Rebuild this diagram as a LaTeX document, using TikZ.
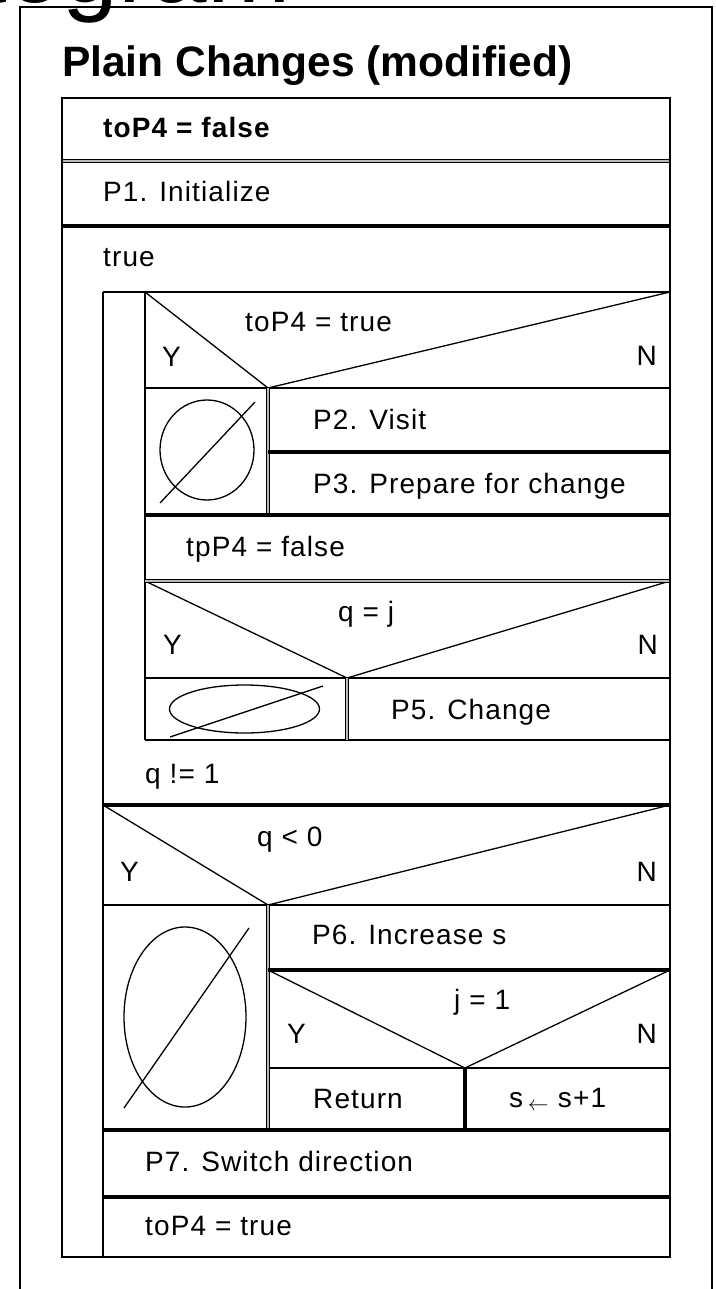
\documentclass[tikz,border=0pt]{standalone}
\usepackage{fontspec}
\setmainfont{Liberation Sans}[LetterSpace=4]
\newfontfamily\plainsans{Liberation Sans}
\tikzset{
  txt/.style={anchor=base west, inner sep=0pt, font=\fontsize{28}{32}\selectfont},
  txtr/.style={anchor=base east, inner sep=0pt, font=\fontsize{28}{32}\selectfont},
  frameline/.style={line width=2pt},
  boxline/.style={line width=2.6pt},
  rowline/.style={line width=2.2pt},
  diagline/.style={line width=1.3pt},
  sepline/.style={line width=4.5pt},
  dblline/.style={line width=1.7pt, double=gray!55, double distance=1.2pt},
}
\begin{document}
\begin{tikzpicture}[x=1pt, y=-1pt, line cap=butt, line join=miter]
\useasboundingbox (0,0) rectangle (715,1289);
\clip (0,0) rectangle (715,1289);
\fill[white] (0,0) rectangle (715,1289);

% cut-off heading at the top
\node[anchor=base west, inner sep=0pt, font=\plainsans\fontsize{100}{100}\selectfont] (heading) at (-254,3) {Structogram};

% outer frame
\draw[frameline] (20,1300) -- (20,7) -- (712,7) -- (712,1300);

% title
\node[anchor=base west, inner sep=0pt, font=\plainsans\bfseries\fontsize{42.5}{48}\selectfont] (title) at (62,77) {Plain Changes (modified)};

% ---------- thin structure lines ----------
\draw[rowline] (103,292) -- (670,292);
\draw[rowline] (103,292) -- (103,1257);
\draw[rowline] (145,292) -- (145,740);
% decision toP4 = true
\draw[diagline] (145,292) -- (268,388) -- (670,292);
\draw[rowline] (145,388) -- (670,388);
% decision q = j
\draw[diagline] (145,581) -- (347,678) -- (670,581);
\draw[rowline] (145,678) -- (670,678);
\draw[rowline] (145,740) -- (670,740);
% decision q < 0
\draw[diagline] (103,805) -- (268,905) -- (670,805);
\draw[rowline] (103,905) -- (670,905);
% decision j = 1
\draw[diagline] (268,970) -- (465,1068) -- (670,970);
\draw[rowline] (268,1068) -- (670,1068);

% empty-branch symbols
\draw[diagline] (207,450) ellipse [x radius=47, y radius=50];
\draw[diagline] (160,503) -- (255,402);
\draw[diagline] (244.5,709) ellipse [x radius=75, y radius=24];
\draw[diagline] (170,737) -- (323,686);
\draw[diagline] (185,1017) ellipse [x radius=61, y radius=90];
\draw[diagline] (124,1108) -- (249,928);

% ---------- thick separators ----------
\draw[dblline] (62,161) -- (670,161);
\draw[sepline] (62,226) -- (670,226);
\draw[dblline] (268,388) -- (268,515);
\draw[sepline] (268,452) -- (670,452);
\draw[sepline] (145,515) -- (670,515);
\draw[dblline] (145,581) -- (670,581);
\draw[dblline] (347,678) -- (347,740);
\draw[sepline] (103,805) -- (670,805);
\draw[dblline] (268,905) -- (268,1130);
\draw[sepline] (268,970) -- (670,970);
\draw[sepline] (465,1068) -- (465,1130);
\draw[sepline] (103,1130) -- (670,1130);
\draw[sepline] (103,1197) -- (670,1197);

% outer box of the structogram
\draw[boxline] (62,98) rectangle (670,1257);

% ---------- texts ----------
\node[txt, font=\bfseries\fontsize{28}{32}\selectfont] (t0) at (103,138) {toP4 = false};
\node[txt] (t1) at (103,202) {P1. Initialize};
\node[txt] (t2) at (103,266) {true};
\node[txt] (c1) at (245,331) {toP4 = true};
\node[txt] (y1) at (162,366) {Y};
\node[txtr] (n1) at (657,365) {N};
\node[txt] (t3) at (313,429) {P2. Visit};
\node[txt] (t4) at (313,493) {P3. Prepare for change};
\node[txt] (t5) at (186,556) {tpP4 = false};
\node[txt] (c2) at (338,621) {q = j};
\node[txt] (y2) at (163,654) {Y};
\node[txtr] (n2) at (658,654) {N};
\node[txt] (t6) at (391,719) {P5. Change};
\node[txt] (t7) at (145,783) {q != 1};
\node[txt] (c3) at (257,846) {q < 0};
\node[txt] (y3) at (120,881) {Y};
\node[txtr] (n3) at (657,881) {N};
\node[txt] (t8) at (312,944) {P6. Increase s};
\node[txt] (c4) at (454,1009) {j = 1};
\node[txt] (y4) at (287,1043) {Y};
\node[txtr] (n4) at (657,1043) {N};
\node[txt] (t9) at (313,1108) {Return};
\node[txt] (t10) at (509,1107) {s\,\raisebox{-3pt}{$\scriptstyle\leftarrow$}\,\,s+1};
\node[txt] (t11) at (145,1171) {P7. Switch direction};
\node[txt] (t12) at (145,1235) {toP4 = true};
\end{tikzpicture}
\end{document}
